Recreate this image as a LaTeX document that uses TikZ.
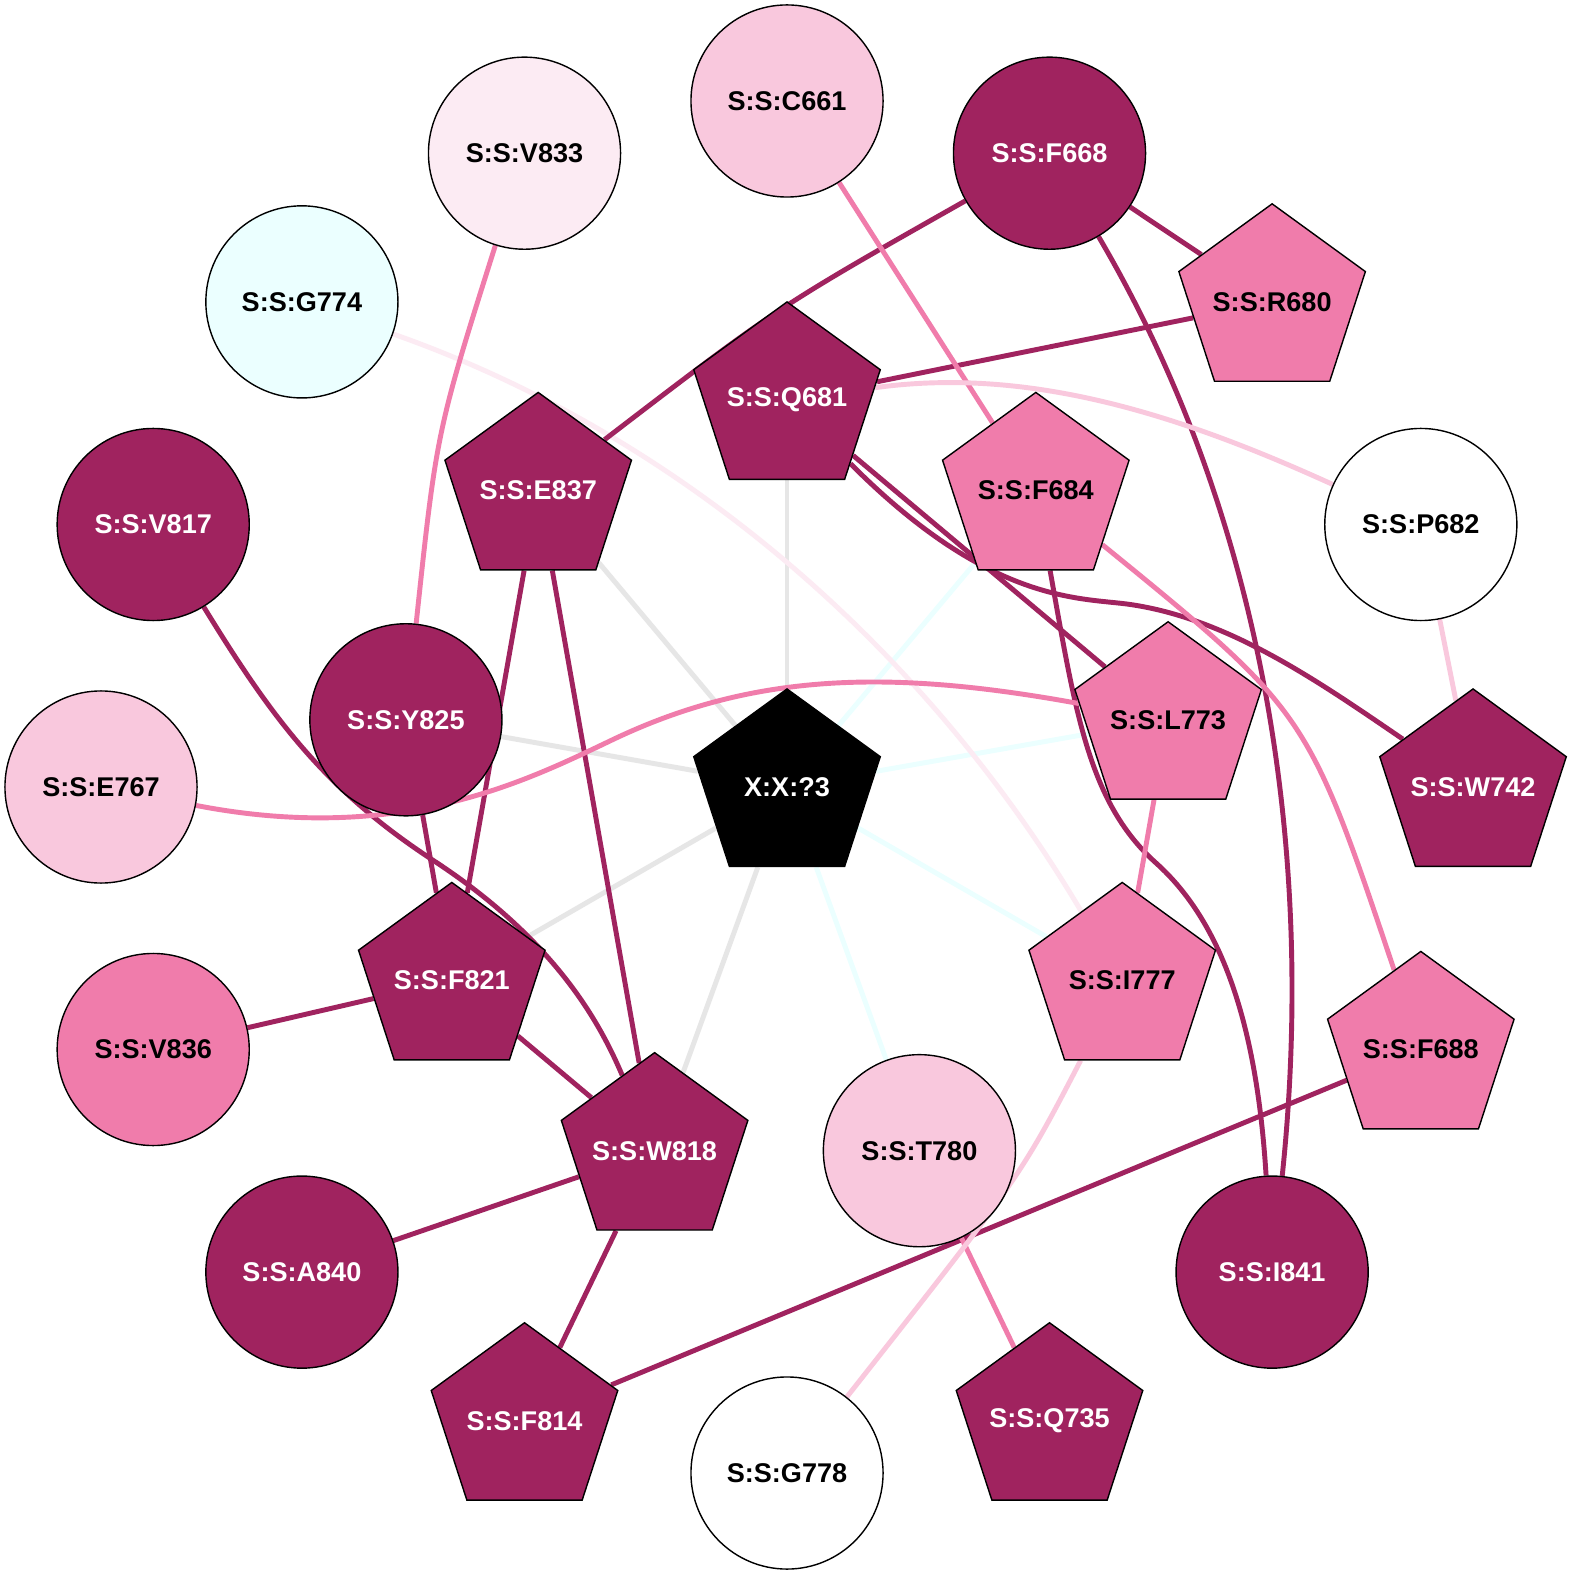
\documentclass[tikz,border=0pt]{standalone}
\usepackage{fontspec}
\setmainfont{Liberation Sans}
\usetikzlibrary{shapes.geometric}
\pgfdeclarelayer{edges}
\pgfsetlayers{edges,main}
\definecolor{cdark}{HTML}{A0235F}
\definecolor{cmed}{HTML}{F07CAB}
\definecolor{clight}{HTML}{F9C8DD}
\definecolor{cvlight}{HTML}{FCEBF3}
\definecolor{ccyan}{HTML}{EBFFFF}
\definecolor{cgray}{HTML}{E6E6E6}
\newcommand{\pentlabel}[1]{\makebox[0pt]{#1}}
\begin{document}
\begin{tikzpicture}[x=0.01cm,y=-0.01cm,
  every node/.style={font=\fontsize{7.7pt}{9pt}\selectfont\bfseries, inner sep=0pt, draw=black, line width=0.4pt},
  res/.style={circle, minimum size=1.92cm},
  pent/.style={regular polygon, regular polygon sides=5, minimum size=1.96cm},
  fdark/.style={fill=cdark, text=white},
  fmed/.style={fill=cmed, text=black},
  flight/.style={fill=clight, text=black},
  fvlight/.style={fill=cvlight, text=black},
  fcyan/.style={fill=ccyan, text=black},
  fwhite/.style={fill=white, text=black},
  fblack/.style={fill=black, text=white},
  link/.style={line width=1.4pt},
  egray/.style={link, draw=cgray},
  ecyan/.style={link, draw=ccyan},
  evlight/.style={link, draw=cvlight},
  edark/.style={link, draw=cdark},
  emed/.style={link, draw=cmed},
  elight/.style={link, draw=clight}
]
\useasboundingbox (0,0) rectangle (1574,1574);

% outer ring
\node[res, flight]  (C661) at (787,101)       {S:S:C661};
\node[res, fdark]   (F668) at (1049.5,153.2)  {S:S:F668};
\node[pent, fmed]   (R680) at (1272.1,301.9)  {\pentlabel{S:S:R680}};
\node[res, fwhite]  (P682) at (1420.8,524.5)  {S:S:P682};
\node[pent, fdark]  (W742) at (1473,787)      {\pentlabel{S:S:W742}};
\node[pent, fmed]   (F688) at (1420.8,1049.5) {\pentlabel{S:S:F688}};
\node[res, fdark]   (I841) at (1272.1,1272.1) {S:S:I841};
\node[pent, fdark]  (Q735) at (1049.5,1420.8) {\pentlabel{S:S:Q735}};
\node[res, fwhite]  (G778) at (787,1473)      {S:S:G778};
\node[pent, fdark]  (F814) at (524.5,1420.8)  {\pentlabel{S:S:F814}};
\node[res, fdark]   (A840) at (301.9,1272.1)  {S:S:A840};
\node[res, fmed]    (V836) at (153.2,1049.5)  {S:S:V836};
\node[res, flight]  (E767) at (101,787)       {S:S:E767};
\node[res, fdark]   (V817) at (153.2,524.5)   {S:S:V817};
\node[res, fcyan]   (G774) at (301.9,301.9)   {S:S:G774};
\node[res, fvlight] (V833) at (524.5,153.2)   {S:S:V833};
% inner ring
\node[pent, fdark]  (Q681) at (787,400)       {\pentlabel{S:S:Q681}};
\node[pent, fmed]   (F684) at (1035.8,490.5)  {\pentlabel{S:S:F684}};
\node[pent, fmed]   (L773) at (1168.1,719.8)  {\pentlabel{S:S:L773}};
\node[pent, fmed]   (I777) at (1122.2,980.5)  {\pentlabel{S:S:I777}};
\node[res, flight]  (T780) at (919.4,1150.7)  {S:S:T780};
\node[pent, fdark]  (W818) at (654.6,1150.7)  {\pentlabel{S:S:W818}};
\node[pent, fdark]  (F821) at (451.8,980.5)   {\pentlabel{S:S:F821}};
\node[res, fdark]   (Y825) at (405.9,719.8)   {S:S:Y825};
\node[pent, fdark]  (E837) at (538.2,490.5)   {\pentlabel{S:S:E837}};
% centre
\node[pent, fblack] (X) at (787,787) {\pentlabel{X:X:?3}};

\begin{pgfonlayer}{edges}
\fill[white] (0,0) rectangle (1574,1574);
% gray
\draw[egray] (Q681) -- (X);
\draw[egray] (E837) -- (X);
\draw[egray] (Y825) -- (X);
\draw[egray] (X) -- (F821);
\draw[egray] (X) -- (W818);
% cyan
\draw[ecyan] (X) -- (L773);
\draw[ecyan] (X) -- (F684);
\draw[ecyan] (X) -- (I777);
\draw[ecyan] (X) -- (T780);
% very light
\draw[evlight] (G774) .. controls (683.5,436.2) and (927,651.2) .. (I777);
% dark
\draw[edark] (F668) -- (R680);
\draw[edark] (R680) -- (Q681);
\draw[edark] (Q681) -- (L773);
\draw[edark] (E837) -- (F821);
\draw[edark] (E837) -- (W818);
\draw[edark] (Y825) -- (F821);
\draw[edark] (V836) -- (F821);
\draw[edark] (F821) -- (W818);
\draw[edark] (W818) -- (A840);
\draw[edark] (W818) -- (F814);
\draw[edark] (F688) -- (F814);
\draw[edark] (F668) .. controls (777.3,307.3) .. (E837);
\draw[edark] (F668) .. controls (1264,518) and (1316,854) .. (I841);
\draw[edark] (Q681) .. controls (991.9,605.7) and (1081.6,597.2) .. (1131,604.6)
                    .. controls (1229.9,619.4) and (1318.4,681.5) .. (W742);
\draw[edark] (V817) .. controls (272.4,718.8) and (324.9,789.6) .. (433.7,860.7)
                    .. controls (559.3,942.8) and (602,1028.2) .. (W818);
\draw[edark] (F684) .. controls (1075.8,714.6) and (1089,802.9) .. (1156,863)
                    .. controls (1223,923.1) and (1256.8,1026.8) .. (I841);
% medium
\draw[emed] (C661) -- (F684);
\draw[emed] (L773) -- (I777);
\draw[emed] (T780) -- (Q735);
\draw[emed] (V833) .. controls (436.6,431.4) .. (Y825);
\draw[emed] (E767) .. controls (400,845) and (526,781) .. (612,740)
                   .. controls (756,671) and (895,670) .. (L773);
\draw[emed] (F684) .. controls (1307.3,711.6) .. (F688);
% light
\draw[elight] (P682) -- (W742);
\draw[elight] (Q681) .. controls (1035,365.4) and (1189.8,419.5) .. (P682);
\draw[elight] (I777) .. controls (1020.4,1176.5) .. (G778);
\end{pgfonlayer}
\end{tikzpicture}
\end{document}
